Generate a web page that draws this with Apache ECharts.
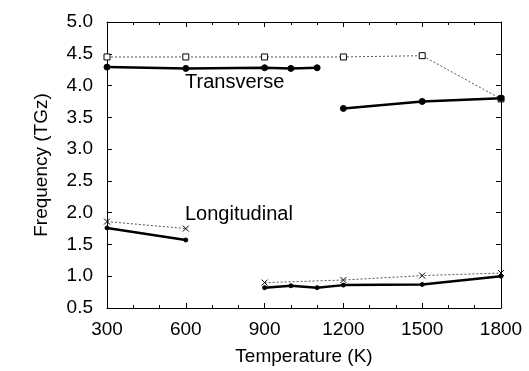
<!DOCTYPE html>
<html><head><meta charset="utf-8">
<script src="https://cdn.jsdelivr.net/npm/echarts@6/dist/echarts.min.js"></script>
<style>html,body{margin:0;padding:0;background:#fff}#c{width:529px;height:371px}</style>
</head><body><div id="c"></div>
<script>
const xTicks = [300, 600, 900, 1200, 1500, 1800];
const transDottedX = [300, 600, 900, 1200, 1500, 1800];
const transDottedY = [4.45, 4.45, 4.45, 4.45, 4.47, 3.79];
const transSolidAX = [300, 600, 900, 1000, 1100];
const transSolidAY = [4.29, 4.27, 4.28, 4.27, 4.28];
const transSolidBX = [1200, 1500, 1800];
const transSolidBY = [3.64, 3.75, 3.80];
const longDottedAX = [300, 600];
const longDottedAY = [1.86, 1.75];
const longDottedBX = [900, 1200, 1500, 1800];
const longDottedBY = [0.90, 0.94, 1.01, 1.05];
const longSolidAX = [300, 600];
const longSolidAY = [1.76, 1.57];
const longSolidBX = [900, 1000, 1100, 1200, 1500, 1800];
const longSolidBY = [0.82, 0.85, 0.82, 0.86, 0.87, 1.00];

const zip = (xs, ys) => xs.map((x, i) => [x, ys[i]]);
const font = 'Liberation Sans, Arial, sans-serif';
const crossSym = 'path://M0,0L10,10M10,0L0,10';
const FS = 19;

function dotted(data, symbol, size) {
  return {type: 'line', data, symbol, symbolSize: size, showSymbol: true,
    lineStyle: {color: '#555', width: 1, type: [2, 2]},
    itemStyle: {color: symbol === 'rect' ? '#fff' : '#000', borderColor: '#000', borderWidth: 1},
    z: 2, animation: false};
}
function solid(data, symbol, size) {
  return {type: 'line', data, symbol, symbolSize: size, showSymbol: true,
    lineStyle: {color: '#000', width: 2.5},
    itemStyle: {color: '#000', borderColor: '#000', borderWidth: 1},
    z: 3, animation: false};
}

const chart = echarts.init(document.getElementById('c'));
const axisCommon = {
  axisLine: {show: true, lineStyle: {color: '#000', width: 1}},
  splitLine: {show: false}
};
chart.setOption({
  animation: false,
  grid: {left: 107, right: 28, top: 22, bottom: 63},
  xAxis: [
    Object.assign({type: 'value', min: xTicks[0], max: xTicks[xTicks.length - 1], interval: 300,
      axisTick: {inside: true, length: 5, lineStyle: {color: '#000'}},
      minorTick: {show: true, splitNumber: 3, length: 3, lineStyle: {color: '#000'}},
      axisLabel: {color: '#000', fontSize: FS, fontFamily: font, margin: 12,
        formatter: v => String(v)},
      name: 'Temperature (K)', nameLocation: 'middle', nameGap: 39,
      nameTextStyle: {color: '#000', fontSize: FS, fontFamily: font}}, axisCommon),
    Object.assign({type: 'value', position: 'top', min: 300, max: 1800, interval: 300,
      axisTick: {inside: true, length: 5, lineStyle: {color: '#000'}},
      minorTick: {show: true, splitNumber: 3, length: 3, lineStyle: {color: '#000'}},
      axisLabel: {show: false}}, axisCommon)
  ],
  yAxis: [
    Object.assign({type: 'value', min: 0.5, max: 5.0, interval: 0.5,
      axisTick: {inside: true, length: 5, lineStyle: {color: '#000'}},
      axisLabel: {color: '#000', fontSize: FS, fontFamily: font, margin: 14,
        formatter: v => v.toFixed(1)},
      name: 'Frequency (TGz)', nameLocation: 'middle', nameGap: 56, nameRotate: 90,
      nameTextStyle: {color: '#000', fontSize: FS, fontFamily: font}}, axisCommon),
    Object.assign({type: 'value', position: 'right', min: 0.5, max: 5.0, interval: 0.5,
      axisTick: {inside: true, length: 5, lineStyle: {color: '#000'}},
      axisLabel: {show: false}}, axisCommon)
  ],
  graphic: [
    {type: 'text', left: 185, top: 72, style: {text: 'Transverse', fill: '#000', font: '20px ' + font}},
    {type: 'text', left: 185, top: 204, style: {text: 'Longitudinal', fill: '#000', font: '20px ' + font}}
  ],
  series: [
    dotted(zip(transDottedX, transDottedY), 'rect', 6),
    solid(zip(transSolidAX, transSolidAY), 'circle', 6),
    solid(zip(transSolidBX, transSolidBY), 'circle', 6),
    dotted(zip(longDottedAX, longDottedAY), crossSym, 6),
    dotted(zip(longDottedBX, longDottedBY), crossSym, 6),
    solid(zip(longSolidAX, longSolidAY), 'circle', 4),
    solid(zip(longSolidBX, longSolidBY), 'circle', 4)
  ]
});
</script></body></html>
